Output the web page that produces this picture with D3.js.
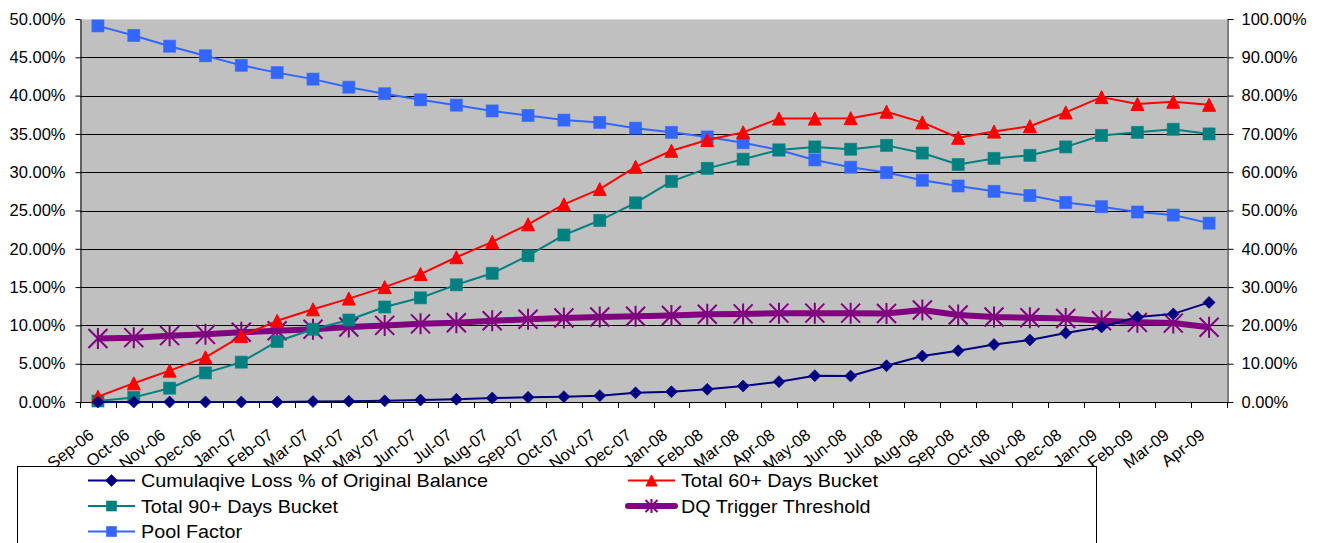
<!DOCTYPE html>
<html>
<head>
<meta charset="utf-8">
<script src="https://cdn.jsdelivr.net/npm/d3@7"></script>
<style>
  html, body { margin: 0; padding: 0; background: #fff; }
  svg { display: block; font-family: "Liberation Sans", Arial, sans-serif; }
</style>
</head>
<body>
<svg id="chart" width="1323" height="543"></svg>
<script>
// Monthly reporting periods
const months = ["Sep-06","Oct-06","Nov-06","Dec-06","Jan-07","Feb-07","Mar-07","Apr-07","May-07","Jun-07",
  "Jul-07","Aug-07","Sep-07","Oct-07","Nov-07","Dec-07","Jan-08","Feb-08","Mar-08","Apr-08","May-08",
  "Jun-08","Jul-08","Aug-08","Sep-08","Oct-08","Nov-08","Dec-08","Jan-09","Feb-09","Mar-09","Apr-09"];

// Series values in percent (left axis unless noted)
const cumulativeLoss = [0.0,0.0,0.0,0.0,0.0,0.0,0.05,0.1,0.15,0.26,0.35,0.52,0.61,0.7,0.83,1.2,1.35,1.65,2.09,
  2.65,3.44,3.39,4.74,6.0,6.7,7.5,8.1,9.0,9.8,11.1,11.5,13.0];
const total60 = [0.7,2.44,4.09,5.83,8.6,10.6,12.1,13.5,15.0,16.7,18.9,20.9,23.2,25.8,27.8,30.7,32.8,34.2,35.2,
  37.0,37.0,37.05,37.9,36.5,34.5,35.3,36.0,37.8,39.8,38.9,39.2,38.8];
const total90 = [0.13,0.6,1.8,3.8,5.2,7.9,9.5,10.7,12.4,13.6,15.3,16.8,19.1,21.8,23.7,26.0,28.8,30.5,31.7,
  32.9,33.3,33.0,33.5,32.5,31.0,31.8,32.2,33.3,34.8,35.2,35.6,35.0];
const dqTrigger = [8.3,8.4,8.66,8.83,9.1,9.3,9.5,9.8,10.0,10.2,10.35,10.6,10.8,10.97,11.1,11.2,11.3,11.45,11.5,
  11.6,11.6,11.6,11.55,12.0,11.35,11.1,11.0,10.9,10.6,10.4,10.3,9.75];
// Pool factor is read against the right axis (0-100%)
const poolFactor = [98.2,95.7,92.9,90.4,87.9,86.0,84.3,82.2,80.5,78.9,77.5,76.0,74.8,73.6,73.0,71.5,70.4,69.2,
  67.7,65.8,63.2,61.3,59.9,57.9,56.4,55.0,53.9,52.1,51.0,49.6,48.8,46.7];

const leftTicks = [0,5,10,15,20,25,30,35,40,45,50];
const rightTicks = [0,10,20,30,40,50,60,70,80,90,100];

const series = [
  { name: "Cumulaqive Loss % of Original Balance", values: cumulativeLoss, axis: "left", color: "#000080", width: 2, marker: "diamond" },
  { name: "Total 60+ Days Bucket", values: total60, axis: "left", color: "#FF0000", width: 2, marker: "triangle" },
  { name: "Total 90+ Days Bucket", values: total90, axis: "left", color: "#008080", width: 2, marker: "square" },
  { name: "DQ Trigger Threshold", values: dqTrigger, axis: "left", color: "#800080", width: 6, marker: "star" },
  { name: "Pool Factor", values: poolFactor, axis: "right", color: "#3366FF", width: 2, marker: "square" }
];

const svg = d3.select("#chart");
const plot = { left: 80, right: 1227, top: 19, bottom: 402 };

const x = d3.scaleBand().domain(months).range([plot.left, plot.right]).padding(0);
const yL = d3.scaleLinear().domain([0, 50]).range([plot.bottom, plot.top]);
const yR = d3.scaleLinear().domain([0, 100]).range([plot.bottom, plot.top]);
const cx = d => x(d) + x.bandwidth() / 2;

// Plot background
svg.append("rect")
  .attr("x", plot.left).attr("y", plot.top)
  .attr("width", plot.right - plot.left).attr("height", plot.bottom - plot.top)
  .attr("fill", "#C0C0C0");
svg.append("line")
  .attr("x1", plot.left).attr("x2", plot.right)
  .attr("y1", plot.top + 0.5).attr("y2", plot.top + 0.5)
  .attr("stroke", "#D8D8D8").attr("stroke-width", 1);

// Horizontal gridlines
svg.append("g").selectAll("line")
  .data(leftTicks.filter(t => t > 0 && t < 50))
  .join("line")
  .attr("x1", plot.left).attr("x2", plot.right)
  .attr("y1", d => Math.round(yL(d)) + 0.5).attr("y2", d => Math.round(yL(d)) + 0.5)
  .attr("stroke", "#000").attr("stroke-width", 1);

// Left axis
const fmt = d => d.toFixed(2) + "%";
const gL = svg.append("g").attr("transform", `translate(${plot.left + 0.5},0)`)
  .call(d3.axisLeft(yL).tickValues(leftTicks).tickFormat(fmt).tickSize(5).tickPadding(10).tickSizeOuter(0));
// Right axis
const gR = svg.append("g").attr("transform", `translate(${plot.right + 0.5},0)`)
  .call(d3.axisRight(yR).tickValues(rightTicks).tickFormat(fmt).tickSize(6).tickPadding(8).tickSizeOuter(0));
[gL, gR].forEach(g => {
  g.select(".domain").attr("stroke", "#000");
  g.selectAll(".tick line").attr("stroke", "#000");
  g.selectAll(".tick text").attr("font-size", 16.5).attr("fill", "#000")
    .attr("font-family", "'Liberation Sans', Arial, sans-serif");
});

// Bottom axis: baseline, ticks at month boundaries, rotated labels
const gX = svg.append("g");
gX.append("line")
  .attr("x1", plot.left).attr("x2", plot.right)
  .attr("y1", plot.bottom + 0.5).attr("y2", plot.bottom + 0.5)
  .attr("stroke", "#000");
gX.selectAll("line.tk")
  .data(months.map(m => x(m)).concat([plot.right]))
  .join("line").attr("class", "tk")
  .attr("x1", d => Math.round(d) + 0.5).attr("x2", d => Math.round(d) + 0.5)
  .attr("y1", plot.bottom).attr("y2", plot.bottom + 6)
  .attr("stroke", "#000");
gX.selectAll("text")
  .data(months)
  .join("text")
  .attr("transform", d => `translate(${cx(d) - 3},${plot.bottom + 35}) rotate(-38)`)
  .attr("text-anchor", "end")
  .attr("font-size", 16.5)
  .attr("fill", "#000")
  .text(d => d);

// Marker shapes
function drawMarker(g, type, color, size) {
  if (type === "square") {
    g.append("rect").attr("x", -size / 2).attr("y", -size / 2).attr("width", size).attr("height", size)
      .attr("fill", color).attr("stroke", color).attr("stroke-opacity", 0.6).attr("stroke-width", 1);
  } else if (type === "diamond") {
    const s = size / 2 + 1;
    g.append("path").attr("d", `M0,${-s}L${s},0L0,${s}L${-s},0Z`).attr("fill", color).attr("stroke", color).attr("stroke-opacity", 0.6);
  } else if (type === "triangle") {
    const s = size / 2 + 0.5;
    g.append("path").attr("d", `M0,${-s}L${s},${s}L${-s},${s}Z`).attr("fill", color).attr("stroke", color);
  } else if (type === "star") {
    const s = size / 2;
    g.append("path")
      .attr("d", `M${-s},${-s}L${s},${s}M${-s},${s}L${s},${-s}M0,${-s - 1}L0,${s + 1}`)
      .attr("stroke", color).attr("stroke-width", 2).attr("fill", "none");
  }
}

const lineGen = (yScale) => d3.line().x((d, i) => cx(months[i])).y(d => yScale(d));
const drawOrder = [4, 3, 2, 1, 0].map(i => series[i]);
const markerSize = { square: 12, diamond: 10, triangle: 12, star: 19 };

drawOrder.forEach(s => {
  const yS = s.axis === "left" ? yL : yR;
  svg.append("path")
    .datum(s.values)
    .attr("d", lineGen(yS))
    .attr("fill", "none")
    .attr("stroke", s.color)
    .attr("stroke-width", s.width)
    .attr("stroke-linejoin", "round");
  svg.append("g").selectAll("g")
    .data(s.values)
    .join("g")
    .attr("transform", (d, i) => `translate(${cx(months[i])},${yS(d)})`)
    .each(function () { drawMarker(d3.select(this), s.marker, s.color, markerSize[s.marker]); });
});

// Legend
const legend = svg.append("g");
legend.append("rect")
  .attr("x", 17.5).attr("y", 466.5).attr("width", 1079).attr("height", 100)
  .attr("fill", "#fff").attr("stroke", "#000").attr("stroke-width", 1);
const legendItems = [
  { s: series[0], col: 0, row: 0 },
  { s: series[1], col: 1, row: 0 },
  { s: series[2], col: 0, row: 1 },
  { s: series[3], col: 1, row: 1 },
  { s: series[4], col: 0, row: 2 }
];
const colX = [88, 628];
legendItems.forEach(it => {
  const lx = colX[it.col];
  const ly = 480.5 + it.row * 25.5;
  const g = legend.append("g");
  g.append("line").attr("x1", lx).attr("x2", lx + 47).attr("y1", ly).attr("y2", ly)
    .attr("stroke", it.s.color).attr("stroke-width", it.s.width)
    .attr("stroke-linecap", it.s.width > 3 ? "round" : "butt");
  const mg = g.append("g").attr("transform", `translate(${lx + 23.5},${ly})`);
  drawMarker(mg, it.s.marker, it.s.color, it.s.marker === "star" ? 12 : 10);
  g.append("text").attr("transform", `translate(${lx + 53},${ly}) scale(1.04,1)`)
    .attr("dy", "0.35em")
    .attr("font-size", 19).attr("fill", "#000").text(it.s.name);
});
</script>
</body>
</html>
